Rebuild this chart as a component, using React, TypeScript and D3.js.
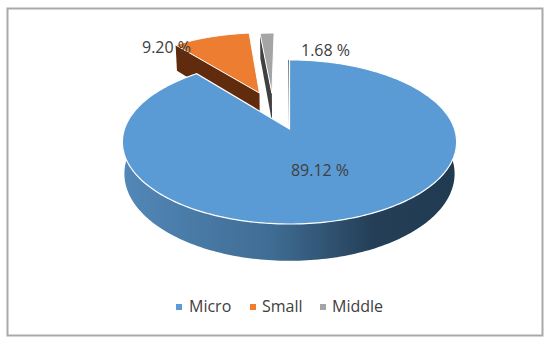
import React from 'react';
import * as d3 from 'd3';

const categories = ['Micro', 'Small', 'Middle'];
const shares = [89.12, 9.2, 1.68];
const shareLabels = ['89.12 %', '9.20 %', '1.68 %'];

const topColors = ['#5B9BD5', '#ED7D31', '#A5A5A5'];
const wallColors = ['#44586a', '#612c0e', '#404040'];

// the slices are pulled out on the ground plane, in units of the pie radius
const explode = [[0, 0], [-0.196, 0.484], [-0.115, 0.48]];
const labelPos = [[320, 176], [142, 53], [301, 56]];
const legendPos = [[176, 189], [250, 262], [320, 332]];

const width = 550, height = 346;
const cx = 289.5, cy = 129, radius = 165, squash = 80, persp = 0.158, depth = 31;

// perspective projection of a ground point, z = 0 top face, z = 1 bottom face
function project(X: number, Y: number, z = 0): [number, number] {
    const f = 1 / (1 + persp * Y);
    return [cx + radius * X * f * (1 - 0.012 * z), cy - squash * Y * f + z * depth * f];
}

const line = d3.line();

function arcPoints(i: number, a0: number, a1: number, z = 0) {
    const [ox, oy] = explode[i];
    const n = Math.max(2, Math.ceil(Math.abs(a1 - a0) / 0.02));
    return d3.range(n + 1).map(k => {
        const a = a0 + (a1 - a0) * k / n;
        return project(ox + Math.sin(a), oy + Math.cos(a), z);
    });
}

export default function App() {
    const arcs = d3.pie<number>().sort(null)(shares);

    const faces = arcs.map((d, i) => {
        const apex = project(explode[i][0], explode[i][1]);
        return line([apex, ...arcPoints(i, d.startAngle, d.endAngle)]) + 'Z';
    });

    // wall along the end edge of a pulled out slice
    const wall = (i: number) => {
        const a = arcs[i].startAngle;
        const [ox, oy] = explode[i];
        const outer = [ox + Math.sin(a), oy + Math.cos(a)];
        return line([
            project(ox, oy),
            project(outer[0], outer[1]),
            project(outer[0], outer[1], 1),
            project(ox, oy, 1),
        ]) + 'Z';
    };

    const rimStart = Math.PI * 0.38, rimEnd = Math.PI * 1.62;
    const rim = line([
        ...arcPoints(0, rimStart, rimEnd),
        ...arcPoints(0, rimEnd, rimStart, 1),
    ]) + 'Z';

    return (
        <svg width={width} height={height} style={{ position: 'absolute', left: 0, top: 0 }}
             fontFamily="'Open Sans'" fontSize={16} fill="#404040">
            <defs>
                <linearGradient id="rim" gradientUnits="userSpaceOnUse" x1={cx - radius} x2={cx + radius} y1={0} y2={0}>
                    <stop offset="0" stopColor="#5287b7" />
                    <stop offset="0.45" stopColor="#3f6c93" />
                    <stop offset="0.75" stopColor="#253f58" />
                    <stop offset="1" stopColor="#203a50" />
                </linearGradient>
            </defs>
            <rect x={7.5} y={8.5} width={535} height={327} fill="white" stroke="#a9a9a9" strokeWidth={2} />

            <path d={wall(2)} fill={wallColors[2]} />
            <path d={faces[2]} fill={topColors[2]} stroke="white" />
            <path d={wall(1)} fill={wallColors[1]} />
            <path d={faces[1]} fill={topColors[1]} stroke="white" />

            <path d={rim} fill="url(#rim)" />
            <path d={line([project(-0.006, 1), project(0, 0)]) ?? ''} stroke={wallColors[0]} fill="none" />
            <path d={faces[0]} fill={topColors[0]} stroke="white" strokeWidth={1.2} />

            {shareLabels.map((t, i) => (
                <text key={t} x={labelPos[i][0]} y={labelPos[i][1]} textAnchor={i === 0 ? 'middle' : 'start'}>{t}</text>
            ))}

            {categories.map((c, i) => (
                <g key={c}>
                    <rect x={legendPos[i][0]} y={304} width={6} height={6} fill={topColors[i]} />
                    <text x={legendPos[i][1]} y={312}>{c}</text>
                </g>
            ))}
        </svg>
    );
}
